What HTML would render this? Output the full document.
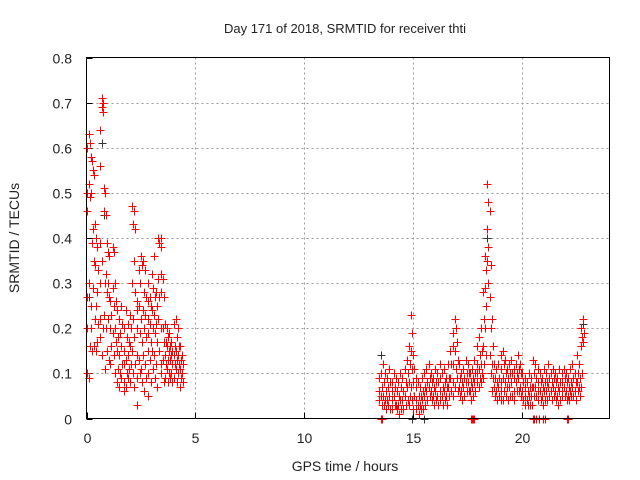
<!DOCTYPE html>
<html><head><meta charset="utf-8"><style>
body{margin:0;background:#fff}
svg{display:block;font-family:"Liberation Sans",sans-serif}
</style></head><body>
<svg id="chart" width="640" height="480" viewBox="0 0 640 480" xmlns="http://www.w3.org/2000/svg">
<rect width="640" height="480" fill="#fff"/>
<g id="grid"></g>
<g id="axes"></g>
<g id="marks"></g>
<rect x="86.5" y="57.5" width="523" height="361" fill="none" stroke="#000" stroke-width="1"/>
<text x="345" y="33" font-size="13" text-anchor="middle" fill="#222">Day 171 of 2018, SRMTID for receiver thti</text>
<text x="345" y="471" font-size="14" text-anchor="middle" fill="#222">GPS time / hours</text>
<text x="19" y="238" font-size="14" text-anchor="middle" fill="#222" transform="rotate(-90 19 238)">SRMTID / TECUs</text>
</svg>
<script>
const xTicks=[0,5,10,15,20];
const yTicks=[0,0.1,0.2,0.3,0.4,0.5,0.6,0.7,0.8];
const times=[0.0,0.1,0.2,0.3,0.4,0.5,0.6,0.7,0.8,0.9,1.0,1.1,1.2,1.3,1.4,1.5,1.6,1.7,1.8,1.9,2.0,2.1,2.2,2.3,2.4,2.5,2.6,2.7,2.8,2.9,3.0,3.1,3.2,3.3,3.4,3.5,3.6,3.7,3.8,3.9,4.0,4.1,4.2,4.3,4.4,
13.4,13.5,13.6,13.7,13.8,13.9,14.0,14.1,14.2,14.3,14.4,14.5,14.6,14.7,14.8,14.9,15.0,15.1,15.2,15.3,15.4,15.5,15.6,15.7,15.8,15.9,16.0,16.1,16.2,16.3,16.4,16.5,16.6,16.7,16.8,16.9,17.0,17.1,17.2,17.3,17.4,17.5,17.6,17.7,17.8,17.9,18.0,18.1,18.2,18.3,18.4,18.5,18.6,18.7,18.8,18.9,19.0,19.1,19.2,19.3,19.4,19.5,19.6,19.7,19.8,19.9,20.0,20.1,20.2,20.3,20.4,20.5,20.6,20.7,20.8,20.9,21.0,21.1,21.2,21.3,21.4,21.5,21.6,21.7,21.8,21.9,22.0,22.1,22.2,22.3,22.4,22.5,22.6,22.7,22.8];
const values=[
[0.46,0.6,0.2,0.1,0.27,0.5],[0.52,0.61,0.63,0.49,0.3,0.16,0.09],[0.58,0.57,0.5,0.39,0.2,0.15,0.25],[0.55,0.54,0.42,0.35,0.29,0.16],[0.43,0.4,0.34,0.25,0.22,0.15],[0.38,0.33,0.28,0.21,0.17],[0.64,0.56,0.39,0.22,0.18,0.3],[0.71,0.7,0.69,0.68,0.35,0.2,0.14],[0.51,0.5,0.46,0.3,0.23,0.11],[0.45,0.39,0.32,0.28,0.2,0.15],
[0.37,0.36,0.3,0.27,0.22,0.13],[0.26,0.23,0.2,0.16,0.12],[0.38,0.37,0.29,0.25,0.19,0.14],[0.3,0.26,0.2,0.17,0.1],[0.24,0.18,0.15,0.11,0.08],[0.22,0.19,0.14,0.1,0.07],[0.25,0.21,0.16,0.12,0.09],[0.2,0.15,0.12,0.08,0.06],[0.24,0.18,0.13,0.1,0.07],[0.21,0.17,0.14,0.11,0.09],
[0.23,0.2,0.16,0.12,0.08],[0.47,0.43,0.3,0.22,0.15,0.1],[0.46,0.42,0.35,0.28,0.18,0.12,0.07],[0.26,0.24,0.2,0.14,0.09,0.03],[0.33,0.3,0.25,0.19,0.13,0.1],[0.36,0.34,0.22,0.17,0.11,0.08],[0.35,0.28,0.24,0.2,0.14,0.06],[0.33,0.27,0.23,0.18,0.12,0.09],[0.3,0.26,0.22,0.19,0.15,0.1,0.05],[0.27,0.25,0.21,0.17,0.13,0.08],
[0.32,0.29,0.24,0.2,0.15,0.11],[0.36,0.27,0.23,0.19,0.14,0.09],[0.28,0.25,0.21,0.17,0.12,0.07],[0.4,0.39,0.31,0.27,0.22,0.15],[0.4,0.38,0.32,0.28,0.2,0.12,0.1],[0.31,0.27,0.2,0.17,0.13,0.08],[0.21,0.17,0.14,0.12,0.09],[0.2,0.18,0.16,0.13,0.11,0.08],[0.19,0.16,0.15,0.13,0.1,0.09],[0.17,0.15,0.14,0.12,0.1,0.08],
[0.21,0.16,0.14,0.12,0.09],[0.22,0.18,0.15,0.13,0.11,0.08],[0.2,0.16,0.14,0.12,0.1],[0.16,0.13,0.11,0.09,0.07],[0.14,0.12,0.1,0.08],
[0.09,0.06,0.04],[0.1,0.07,0.05,0.03],[0.12,0.08,0.05,0.03],[0.1,0.06,0.04,0.02],[0.09,0.07,0.04,0.03],[0.11,0.08,0.05,0.02],[0.08,0.06,0.04,0.02],[0.1,0.07,0.05,0.03],[0.09,0.06,0.03,0.02],[0.08,0.05,0.03,0.01],
[0.1,0.07,0.04,0.02],[0.09,0.06,0.04,0.02],[0.11,0.08,0.05,0.03],[0.13,0.1,0.07,0.04],[0.16,0.12,0.08,0.05,0.03],[0.23,0.19,0.15,0.11,0.07,0.04],[0.14,0.11,0.08,0.05,0.02],[0.09,0.07,0.04,0.02],[0.08,0.05,0.03,0.01],[0.07,0.05,0.03,0.02],
[0.09,0.06,0.04,0.02],[0.1,0.07,0.05,0.03],[0.11,0.08,0.06,0.04],[0.12,0.09,0.07,0.05],[0.1,0.08,0.06,0.04],[0.09,0.07,0.05,0.03],[0.11,0.08,0.06,0.04],[0.1,0.08,0.05,0.03],[0.12,0.09,0.06,0.04],[0.1,0.07,0.05,0.03],
[0.11,0.08,0.06,0.04],[0.09,0.07,0.05,0.03],[0.12,0.09,0.07,0.05],[0.15,0.12,0.09,0.06],[0.19,0.16,0.12,0.08,0.05],[0.22,0.2,0.15,0.11,0.07],[0.17,0.13,0.09,0.06],[0.12,0.09,0.07,0.05],[0.1,0.08,0.06,0.04],[0.11,0.09,0.07,0.05],
[0.13,0.1,0.08,0.06],[0.12,0.1,0.08,0.06],[0.1,0.08,0.06,0.04],[0.11,0.09,0.07,0.05],[0.13,0.1,0.08,0.06],[0.16,0.12,0.1,0.08],[0.18,0.14,0.11,0.09,0.07],[0.2,0.15,0.12,0.1,0.08],[0.28,0.22,0.16,0.12,0.09],[0.36,0.33,0.29,0.25,0.2,0.14],
[0.52,0.48,0.42,0.38,0.35,0.3],[0.46,0.34,0.27,0.2,0.14,0.1],[0.22,0.16,0.12,0.09,0.06],[0.12,0.09,0.07,0.05],[0.11,0.08,0.06,0.04],[0.12,0.09,0.07,0.05],[0.14,0.11,0.08,0.06,0.04],[0.15,0.12,0.09,0.06,0.04],[0.13,0.1,0.08,0.05],[0.11,0.09,0.07,0.04],
[0.12,0.1,0.07,0.05],[0.13,0.1,0.08,0.05],[0.11,0.09,0.06,0.04],[0.12,0.1,0.08,0.06],[0.14,0.11,0.09,0.06],[0.12,0.1,0.07,0.05],[0.1,0.08,0.06,0.04],[0.09,0.07,0.05,0.03],[0.08,0.06,0.04,0.03],[0.1,0.07,0.05,0.03],
[0.09,0.07,0.05,0.03],[0.13,0.1,0.07,0.05],[0.12,0.09,0.07,0.05],[0.11,0.08,0.06,0.04],[0.1,0.08,0.06,0.04],[0.09,0.07,0.05,0.03],[0.11,0.08,0.06,0.04],[0.1,0.08,0.06,0.04],[0.12,0.09,0.07,0.05],[0.1,0.08,0.06,0.04],
[0.11,0.09,0.07,0.05],[0.1,0.08,0.06,0.04],[0.09,0.07,0.05,0.03],[0.11,0.08,0.06,0.04],[0.1,0.08,0.06,0.05],[0.11,0.09,0.07,0.05],[0.1,0.08,0.06,0.04],[0.09,0.07,0.05,0.04],[0.11,0.08,0.06,0.05],[0.12,0.09,0.07,0.05],
[0.1,0.08,0.06,0.04],[0.14,0.1,0.08,0.06],[0.12,0.09,0.07,0.05],[0.2,0.18,0.16,0.1,0.07],[0.22,0.19,0.17]];
const zeroTimes=[13.5,13.55,17.65,17.7,17.75,17.8,20.5,20.55,20.65,20.75,20.95,21.05,22.05,22.1];
const darkTimes=[0.1,0.7,0.8,3.4,13.5,14.9,14.95,15.5,18.4,22.8];
const darkValues=[0.27,0.61,0.45,0.4,0.14,0.23,0.0,0.0,0.4,0.21];

const X0=86.5,X1=609.5,Y0=418.5,Y1=57.5,XMAX=24,YMAX=0.8;
const xs=t=>X0+(X1-X0)*t/XMAX;
const ys=v=>Y0-(Y0-Y1)*v/YMAX;
const NS='http://www.w3.org/2000/svg';
function mk(tag,attrs,parent){const e=document.createElementNS(NS,tag);for(const k in attrs)e.setAttribute(k,attrs[k]);parent.appendChild(e);return e;}
const grid=document.getElementById('grid'),axes=document.getElementById('axes'),marks=document.getElementById('marks');
xTicks.forEach(t=>{
  const x=Math.round(xs(t))+0.5;
  if(t>0){const g=mk('line',{x1:x,x2:x,y1:Y1,y2:Y0,stroke:'#999','stroke-dasharray':'2,3'},grid);
  
  }
  const tk=mk('line',{x1:x,x2:x,y1:Y0,y2:Y0-6,stroke:'#000'},axes);
  
  
  const lb=mk('text',{x:x,y:443,'font-size':14,'text-anchor':'middle',fill:'#222'},axes);
  lb.textContent=t;
  
  
});
yTicks.forEach(v=>{
  const y=Math.round(ys(v))+0.5;
  if(v>0&&v<0.8){const g=mk('line',{x1:X0,x2:X1,y1:y,y2:y,stroke:'#999','stroke-dasharray':'2,3'},grid);
  
  }
  const tk=mk('line',{x1:X0,x2:X0+6,y1:y,y2:y,stroke:'#000'},axes);
  
  
  const lb=mk('text',{x:72,y:y+5,'font-size':14,'text-anchor':'end',fill:'#222'},axes);
  lb.textContent=v===0?'0':v.toFixed(1);
  
  
});
function plus(t,v,color,name){
  const x=Math.round(xs(t))+0.5,y=Math.round(ys(v))+0.5;
  const p=mk('path',{d:`M${x-4} ${y}H${x+4}M${x} ${y-4}V${y+4}`,stroke:color,'stroke-width':1,fill:'none'},marks);
  
  
}
darkTimes.forEach((t,i)=>plus(t,darkValues[i],'#333','dark-point'));
times.forEach((t,i)=>values[i].forEach((v,j)=>plus(t+(j%2)*0.04,v,'#f00','srmtid-point')));
zeroTimes.forEach(t=>plus(t,0,'#f00','zero-point'));
</script>
</body></html>
